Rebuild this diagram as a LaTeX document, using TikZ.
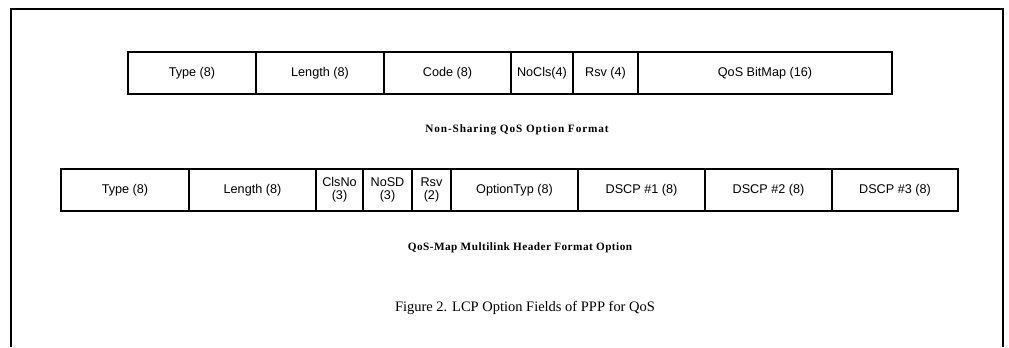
\documentclass[tikz,border=0pt]{standalone}
\usepackage{fontspec}
\setmainfont{Liberation Serif}
\setsansfont{Liberation Sans}
\usetikzlibrary{positioning}
\tikzset{
    % Field boxes - one per bit field
    field/.style={
        rectangle,
        draw=black,
        line width=0.8pt,
        outer sep=0pt,
        inner sep=1pt,
        minimum height=1.05cm,
        align=center,
        font=\sffamily\fontsize{9}{9.5}\selectfont
    },
    % Format captions under each row
    caption/.style={
        font=\bfseries\fontsize{8}{9}\selectfont\addfontfeature{LetterSpace=4}
    },
    widecaption/.style={
        font=\bfseries\fontsize{8}{9}\selectfont\addfontfeature{LetterSpace=8}
    },
    figcaption/.style={
        font=\fontsize{10.3}{12}\selectfont
    },
    frame/.style={
        line width=1.4pt,
        draw=black
    }
}
\begin{document}
\begin{tikzpicture}
    \useasboundingbox (0,0) rectangle (25.225,-8.675);
    % Outer frame (open at the bottom)
    \draw[frame] (0.275,-8.675) |- (25.075,-0.225) -- (25.075,-8.675);

    % Non-Sharing QoS option
    \node[field, minimum width=3.2cm, anchor=west] (nstype) at (3.2,-1.825) {Type (8)};
    \node[field, minimum width=3.2cm, right=0pt of nstype] (nslen) {Length (8)};
    \node[field, minimum width=3.175cm, right=0pt of nslen] (nscode) {Code (8)};
    \node[field, minimum width=1.55cm, right=0pt of nscode] (nsnocls) {NoCls(4)};
    \node[field, minimum width=1.625cm, right=0pt of nsnocls] (nsrsv) {Rsv (4)};
    \node[field, minimum width=6.35cm, right=0pt of nsrsv] (nsmap) {QoS BitMap (16)};
    \node[widecaption] (nscap) at (12.925,-3.25) {Non-Sharing QoS Option Format};

    % QoS-Map multilink header option
    \node[field, minimum width=3.2cm, anchor=west] (mltype) at (1.525,-4.75) {Type (8)};
    \node[field, minimum width=3.175cm, right=0pt of mltype] (mllen) {Length (8)};
    \node[field, minimum width=1.175cm, right=0pt of mllen] (mlclsno) {ClsNo\\(3)};
    \node[field, minimum width=1.225cm, right=0pt of mlclsno] (mlnosd) {NoSD\\(3)};
    \node[field, minimum width=0.975cm, right=0pt of mlnosd] (mlrsv) {Rsv\\(2)};
    \node[field, minimum width=3.175cm, right=0pt of mlrsv] (mlopt) {OptionTyp (8)};
    \node[field, minimum width=3.175cm, right=0pt of mlopt] (mldscpa) {DSCP \#1 (8)};
    \node[field, minimum width=3.175cm, right=0pt of mldscpa] (mldscpb) {DSCP \#2 (8)};
    \node[field, minimum width=3.15cm, right=0pt of mldscpb] (mldscpc) {DSCP \#3 (8)};
    \node[caption] (mlcap) at (13.0,-6.2) {QoS-Map Multilink Header Format Option};

    % Figure caption
    \node[figcaption] (figcap) at (13.125,-7.7) {Figure 2. LCP Option Fields of PPP for QoS};
\end{tikzpicture}
\end{document}
